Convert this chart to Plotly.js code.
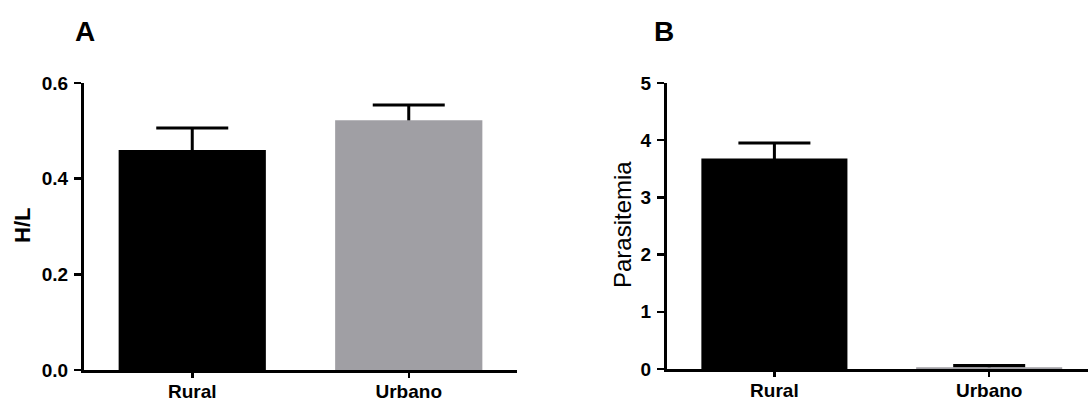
<!DOCTYPE html>
<html>
<head>
<meta charset="utf-8">
<script src="https://cdn.plot.ly/plotly-3.0.1.min.js"></script>
<style>html,body{margin:0;padding:0;background:#fff;}#chart{width:1088px;height:404px;}</style>
</head>
<body>
<div id="chart"></div>
<script>
const categories = ["Rural", "Urbano"];
const hlMeans = [0.46, 0.522];
const hlErrors = [0.046, 0.032];
const parMeans = [3.68, 0.03];
const parErrors = [0.27, 0.03];
const barColors = ["#000000", "#a09fa4"];
const hlTicks = [0, 0.2, 0.4, 0.6];
const hlTickText = ["0.0", "0.2", "0.4", "0.6"];
const parTicks = [0, 1, 2, 3, 4, 5];

const W = 1088, H = 404;
const font = {family: "Liberation Sans, Arial, sans-serif", color: "#000"};

function errTrace(means, errs, xa, ya) {
  return {
    type: "bar", x: categories, y: means, xaxis: xa, yaxis: ya,
    width: 0.68,
    marker: {color: "rgba(0,0,0,0)", line: {width: 0}},
    error_y: {type: "data", array: errs, symmetric: true,
              color: "#000", thickness: 3, width: 36},
    hoverinfo: "none"
  };
}
function barTrace(means, xa, ya) {
  return {
    type: "bar", x: categories, y: means, xaxis: xa, yaxis: ya,
    width: 0.68,
    marker: {color: barColors, line: {width: 0}},
    hoverinfo: "none"
  };
}

const traces = [
  errTrace(hlMeans, hlErrors, "x", "y"),
  barTrace(hlMeans, "x", "y"),
  errTrace(parMeans, parErrors, "x2", "y2"),
  barTrace(parMeans, "x2", "y2")
];

const axisCommon = {
  showgrid: false, zeroline: false, showline: true, linecolor: "#000", linewidth: 3,
  ticks: "outside", tickcolor: "#000", tickwidth: 2.5, ticklen: 7,
  tickfont: Object.assign({size: 19, weight: "bold"}, font)
};

const layout = {
  width: W, height: H,
  margin: {l: 0, r: 0, t: 0, b: 0},
  paper_bgcolor: "#fff", plot_bgcolor: "#fff",
  showlegend: false,
  barmode: "overlay",
  font: font,
  xaxis: Object.assign({}, axisCommon, {
    domain: [84 / W, 517 / W], range: [-0.5, 1.5], anchor: "y",
    ticklen: 5, ticklabelstandoff: -3
  }),
  yaxis: Object.assign({}, axisCommon, {
    domain: [(H - 370) / H, (H - 83) / H], range: [0, 0.6], anchor: "x",
    tickvals: hlTicks, ticktext: hlTickText, ticklabelstandoff: 2
  }),
  xaxis2: Object.assign({}, axisCommon, {
    domain: [667 / W, 1], range: [-0.5, 1.46], anchor: "y2",
    ticklen: 5, ticklabelstandoff: -3
  }),
  yaxis2: Object.assign({}, axisCommon, {
    domain: [(H - 369) / H, (H - 83) / H], range: [0, 5], anchor: "x2",
    tickvals: parTicks, ticklabelstandoff: 2
  }),
  annotations: [
    {text: "A", xref: "paper", yref: "paper", x: 85 / W, y: (H - 32) / H,
     xanchor: "center", yanchor: "middle", showarrow: false,
     font: Object.assign({size: 28, weight: "bold"}, font)},
    {text: "B", xref: "paper", yref: "paper", x: 664 / W, y: (H - 32) / H,
     xanchor: "center", yanchor: "middle", showarrow: false,
     font: Object.assign({size: 28, weight: "bold"}, font)},
    {text: "H/L", xref: "paper", yref: "paper", x: 22 / W, y: (H - 226) / H,
     xanchor: "center", yanchor: "middle", showarrow: false, textangle: -90,
     font: Object.assign({size: 22, weight: "bold"}, font)},
    {text: "Parasitemia", xref: "paper", yref: "paper", x: 622 / W, y: (H - 225) / H,
     xanchor: "center", yanchor: "middle", showarrow: false, textangle: -90,
     font: Object.assign({size: 24, weight: "normal"}, font)}
  ]
};

Plotly.newPlot("chart", traces, layout, {staticPlot: true, displayModeBar: false});
</script>
</body>
</html>
